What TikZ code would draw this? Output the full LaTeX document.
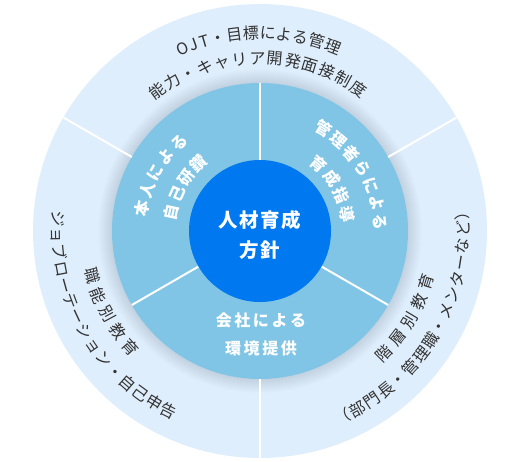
\documentclass[tikz,border=0pt]{standalone}
\usepackage{fontspec}
\usepackage{tikz}
\newfontfamily\jp{Noto Sans CJK JP}
\definecolor{ringpale}{HTML}{DFEEFC}
\definecolor{ringmid}{HTML}{80C5E5}
\definecolor{corebl}{HTML}{0078EF}
\definecolor{inkgray}{HTML}{333333}

\tikzset{
  glyph/.style={inner sep=0pt, text height=12pt, text depth=0pt},
  outerch/.style={glyph, text=inkgray, font=\jp\fontsize{16}{16}\selectfont},
  midch/.style={glyph, text=white, font=\jp\bfseries\fontsize{16}{16}\selectfont},
  coretxt/.style={text=white, inner sep=0pt, font=\jp\bfseries\fontsize{19.5}{19.5}\selectfont},
  divider/.style={white, line width=2pt},
}

% one glyph per node along an arc: name, radius, first angle, step (>0 clockwise)
\newcommand\ringtext[6]{%
  \foreach \ch [count=\k] in {#6} {
    \pgfmathsetmacro\ang{#4-(\k-1)*(#5)}
    \pgfmathsetmacro\rot{\ang-90*sign(#5)}
    \node[#1, rotate=\rot] (#2-\k) at (\ang:#3) {\ch};
  }}
\newcommand\gap{\hspace{2.6pt}}

\begin{document}
\begin{tikzpicture}[x=1pt, y=1pt]
  \useasboundingbox (-260,-230) rectangle (261,231);

  % rings
  \fill[ringpale] (0,0) circle (227);
  \foreach \s in {1,...,14}
    \fill[black, opacity=.008] (0,0) circle (148+\s);
  \fill[ringmid] (0,0) circle (148);
  \foreach \a in {30,150,270}
    \draw[divider] (\a:148) -- (\a:227);
  \foreach \a in {90,210,330}
    \draw[divider] (\a:71) -- (\a:148);
  \fill[corebl] (0,0) circle (71);

  % outer ring
  \ringtext{outerch}{otopa}{198}{113.1}{3.38}{O,J,T}
  \ringtext{outerch}{otopb}{198}{102.24}{4.83}{・,目,標,に,よ,る,管,理}
  \ringtext{outerch}{otopc}{173}{126.2}{5.9}{能,力,・,キ,ャ,リ,ア,開,発,面,接,制,度}
  \ringtext{outerch}{olefta}{174}{195}{-6.75}{職,能,別,教,育}
  \ringtext{outerch}{oleftb}{202}{176.5}{-4.76}{ジ,ョ,ブ,ロ,ー,テ,ー,シ,ョ,ン,・,自,己,申,告}
  \ringtext{outerch}{orighta}{174}{-44.8}{-6.97}{階,層,別,教,育}
  \ringtext{outerch}{orightb}{203}{-65.95}{-4.75}{（,部,門,長,・,管,理,職,・,メ,ン,タ,ー,な,ど,）}

  % middle ring
  \ringtext{midch}{mlefta}{120}{169.3}{9.2}{本,人,に,よ,る}
  \ringtext{midch}{mleftb}{91}{168}{11.9}{自,己,研,鑽}
  \ringtext{midch}{mrighta}{120}{58.3}{9.0}{管,理,者,ら,に,よ,る}
  \ringtext{midch}{mrightb}{89}{49}{12.7}{育,成,指,導}
  \node[midch] (mbota) at (1,-89) {会\gap 社\gap に\gap よ\gap る};
  \node[midch] (mbotb) at (1,-117) {環\gap 境\gap 提\gap 供};

  % core
  \node[coretxt] (corea) at (0,11) {人\hspace{1.5pt}材\hspace{1.5pt}育\hspace{1.5pt}成};
  \node[coretxt] (coreb) at (0,-19) {方\hspace{1.5pt}針};
\end{tikzpicture}
\end{document}
